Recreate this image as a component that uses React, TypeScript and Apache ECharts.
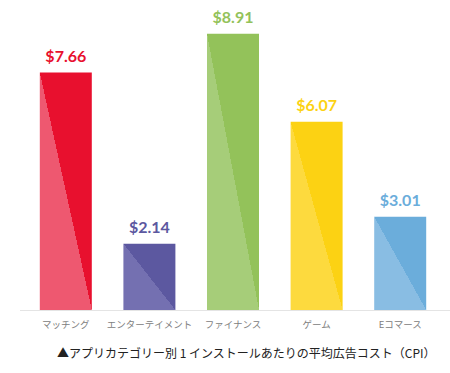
import React, { useEffect, useRef } from "react";
import * as echarts from "echarts";

const categories = ["マッチング", "エンターテイメント", "ファイナンス", "ゲーム", "Eコマース"];
const values = [7.66, 2.14, 8.91, 6.07, 3.01];
const darkColors = ["#E8102E", "#5C58A0", "#93C25A", "#FCD213", "#6BADDB"];
const lightColors = ["#EE5870", "#7470B1", "#A6CD79", "#FDDA3E", "#89BDE3"];
const caption = "▲アプリカテゴリー別 1 インストールあたりの平均広告コスト（CPI）";

export default function App() {
  const ref = useRef<HTMLDivElement>(null);
  useEffect(() => {
    if (!ref.current) return;
    const chart = echarts.init(ref.current, null, { renderer: "svg" });
    chart.setOption({
      animation: false,
      backgroundColor: "#ffffff",
      grid: { left: 24, right: 8, top: 31, bottom: 63 },
      xAxis: {
        type: "category",
        data: categories,
        axisLine: { show: false },
        axisTick: { show: false },
        axisLabel: { interval: 0, color: "#808080", fontSize: 9.5, margin: 9, fontFamily: "Noto Sans CJK JP" },
      },
      yAxis: { type: "value", min: 0, max: 9, show: false, splitLine: { show: false } },
      graphic: [
        { type: "line", shape: { x1: 20, y1: 310.5, x2: 450, y2: 310.5 }, style: { stroke: "#e4e4e4", lineWidth: 1 } },
        {
          type: "text",
          x: 57,
          y: 346,
          style: { text: caption, fill: "#222", font: "12px 'Noto Sans CJK JP'" },
        },
      ],
      series: [
        {
          type: "bar",
          barWidth: 52,
          data: values.map((v, i) => ({
            value: v,
            itemStyle: {
              color: new echarts.graphic.LinearGradient(0, 1, 1, 0, [
                { offset: 0, color: lightColors[i] },
                { offset: 0.5, color: lightColors[i] },
                { offset: 0.5, color: darkColors[i] },
                { offset: 1, color: darkColors[i] },
              ]),
            },
            label: {
              show: true,
              position: "top",
              distance: 9,
              formatter: "$" + v.toFixed(2),
              color: darkColors[i],
              fontSize: 16,
              fontWeight: "bold",
              fontFamily: "Lato",
            },
          })),
        },
      ],
    });
    return () => chart.dispose();
  }, []);
  return <div ref={ref} style={{ width: 450, height: 373, position: "absolute", left: 0, top: 0 }} />;
}
